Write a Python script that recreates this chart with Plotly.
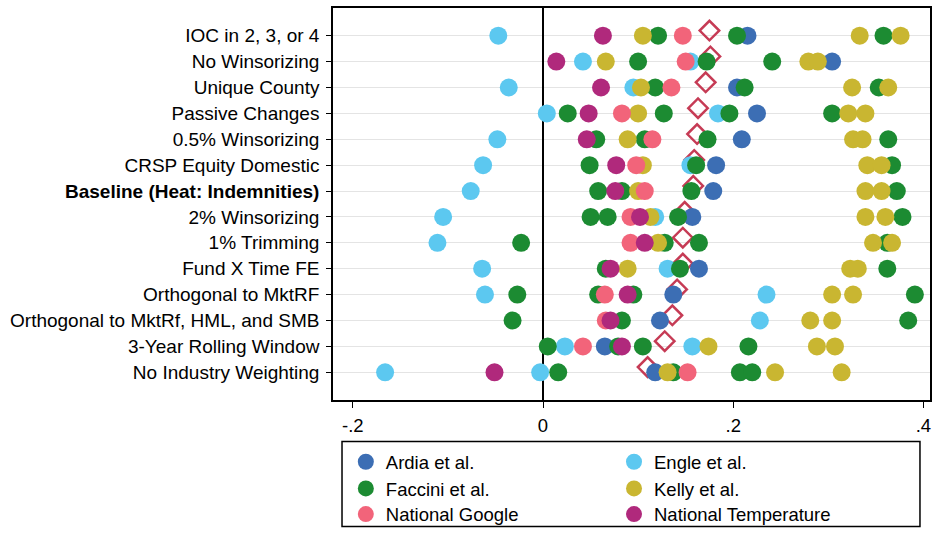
import plotly.graph_objects as go

categories = [
    "IOC in 2, 3, or 4", "No Winsorizing", "Unique County", "Passive Changes",
    "0.5% Winsorizing", "CRSP Equity Domestic", "<b>Baseline (Heat: Indemnities)</b>",
    "2% Winsorizing", "1% Trimming", "Fund X Time FE", "Orthogonal to MktRF",
    "Orthogonal to MktRf, HML, and SMB", "3-Year Rolling Window", "No Industry Weighting",
]

ardia = [[0.215], [0.304], [0.204], [0.225], [0.209], [0.182], [0.179], [0.157], [],
         [0.164], [0.137], [0.123], [0.065], [0.118]]
engle = [[-0.047], [0.042, 0.155], [-0.036, 0.095], [0.004, 0.184], [-0.048], [-0.063, 0.155],
         [-0.076], [-0.105, 0.118], [-0.111], [-0.064, 0.131], [-0.061, 0.235], [0.228],
         [0.023, 0.157], [-0.166, -0.003]]
faccini = [[0.121, 0.204, 0.358], [0.100, 0.172, 0.241], [0.118, 0.212, 0.353],
           [0.026, 0.127, 0.196, 0.304], [0.056, 0.107, 0.173, 0.363], [0.049, 0.161, 0.367],
           [0.058, 0.083, 0.156, 0.372], [0.050, 0.068, 0.142, 0.378], [-0.023, 0.128, 0.164, 0.362],
           [0.066, 0.144, 0.362], [-0.027, 0.058, 0.095, 0.391], [-0.032, 0.083, 0.384],
           [0.005, 0.079, 0.105, 0.216], [0.016, 0.137, 0.207, 0.220]]
kelly = [[0.105, 0.333, 0.376], [0.066, 0.279, 0.289], [0.103, 0.325, 0.363], [0.100, 0.321, 0.339],
         [0.089, 0.326, 0.336], [0.105, 0.341, 0.356], [0.100, 0.339, 0.356], [0.113, 0.339, 0.360],
         [0.121, 0.347, 0.367], [0.089, 0.323, 0.331], [0.304, 0.326], [0.281, 0.304],
         [0.174, 0.288, 0.307], [0.131, 0.244, 0.314]]
google = [[0.147], [0.150], [0.135], [0.083], [0.115], [0.098], [0.107], [0.092], [0.092], [],
          [0.065], [0.066], [0.042], [0.152]]
temperature = [[0.063], [0.014], [0.061], [0.048], [0.046], [0.077], [0.076], [0.102], [0.107],
               [0.071], [0.089], [0.071], [0.083], [-0.051]]
average = [0.175, 0.176, 0.171, 0.163, 0.162, 0.159, 0.158, 0.149, 0.147, 0.147, 0.141,
           0.136, 0.128, 0.110]

# (name, values, colour, legend column, legend row)
series = [
    ("Ardia et al.", ardia, "#3c6eb4", 0, 0),
    ("Engle et al.", engle, "#5cc8f0", 1, 0),
    ("Faccini et al.", faccini, "#1c8b32", 0, 1),
    ("Kelly et al.", kelly, "#c9b631", 1, 1),
    ("National Google", google, "#f2647a", 0, 2),
    ("National Temperature", temperature, "#b0297c", 1, 2),
]

FONT = "Liberation Sans, Arial, sans-serif"
fig = go.Figure()

# average diamonds (drawn beneath the dots, slightly raised)
fig.add_trace(go.Scatter(
    x=average, y=[i - 0.2 for i in range(len(categories))], mode="markers",
    marker=dict(symbol="diamond-open", size=15, color="#c63b55", line=dict(width=2.5, color="#c63b55")),
    showlegend=False, hoverinfo="x"))

legend_cols = [0.0215, 0.4707]
legend_rows = [-0.1587, -0.2267, -0.2922]
legend_layouts = {}
for k, (name, vals, color, col, row) in enumerate(series):
    xs, ys = [], []
    for i, r in enumerate(vals):
        for v in r:
            xs.append(v)
            ys.append(i)
    leg_id = "legend" if k == 0 else f"legend{k + 1}"
    fig.add_trace(go.Scatter(
        x=xs, y=ys, mode="markers", name=name, legend=leg_id,
        marker=dict(size=18, color=color, line=dict(width=0))))
    legend_layouts[leg_id] = dict(
        x=legend_cols[col], y=legend_rows[row], xanchor="left", yanchor="middle",
        bgcolor="rgba(0,0,0,0)", font=dict(size=18.5, family=FONT), itemsizing="trace")

n = len(categories)
fig.update_layout(
    width=932, height=535,
    margin=dict(l=333, r=2, t=8, b=130),
    paper_bgcolor="white", plot_bgcolor="white",
    font=dict(family=FONT, size=18.5, color="black"),
    xaxis=dict(range=[-0.2208, 0.4069], tickvals=[-0.2, 0, 0.2, 0.4], ticktext=["-.2", "0", ".2", ".4"],
               ticks="outside", ticklen=6, tickcolor="black", tickwidth=1.2, automargin=False,
               tickfont=dict(size=18.5), ticklabelstandoff=2,
               showline=True, linecolor="black", linewidth=1.5, mirror=True,
               showgrid=False, zeroline=True, zerolinecolor="black", zerolinewidth=2.2),
    yaxis=dict(range=[n - 1 + 1.07, -1.07], tickvals=list(range(n)), ticktext=categories,
               ticks="outside", ticklen=5, tickcolor="black", tickwidth=1.2, automargin=False,
               tickfont=dict(size=19), ticklabelstandoff=3,
               showline=True, linecolor="black", linewidth=1.5, mirror=True,
               showgrid=True, gridcolor="#e4e4e4", gridwidth=1, zeroline=False),
    shapes=[dict(type="rect", xref="paper", yref="paper", x0=0.0151, x1=0.9832, y0=-0.1058, y1=-0.3224,
                 line=dict(color="black", width=1.5))],
    showlegend=True,
    **legend_layouts,
)

fig.write_html("out.html", config={"displayModeBar": False},
               post_script="document.body.style.margin='0';document.body.style.padding='0';")
